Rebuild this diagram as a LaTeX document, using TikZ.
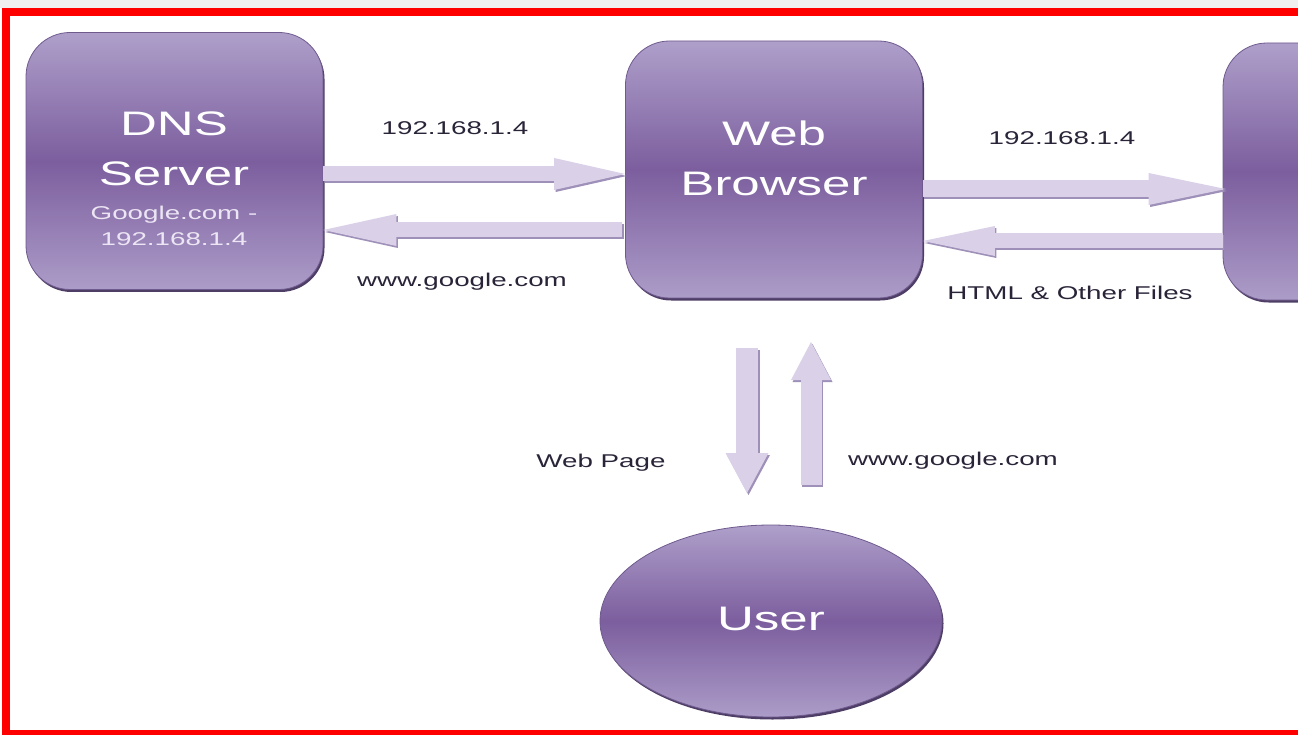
\documentclass[tikz,border=0pt]{standalone}
\usepackage{fontspec}
\setmainfont{Liberation Sans}
\newfontfamily\widefont[FakeStretch=1.5]{Liberation Sans}
\usetikzlibrary{arrows.meta,shadows,shapes.geometric}
\definecolor{boxtop}{HTML}{AE9FCA}
\definecolor{boxmid}{HTML}{7C5E9E}
\definecolor{boxbot}{HTML}{AC9CC8}
\definecolor{boxedge}{HTML}{6F5A8E}
\definecolor{boxsh}{HTML}{4E3E66}
\definecolor{arrowc}{HTML}{DAD1E9}
\definecolor{arrowsh}{HTML}{9E90B8}
\definecolor{labelc}{HTML}{2A2438}
\definecolor{subc}{HTML}{ECE6F4}
\begin{document}
\begin{tikzpicture}[x=1pt,y=-1pt,
  box/.style={rounded corners=44pt, minimum width=297pt, minimum height=257pt,
    top color=boxtop, bottom color=boxbot, middle color=boxmid,
    draw=boxedge, line width=0.8pt, inner sep=0pt,
    general shadow={fill=boxsh, shadow xshift=1.5pt, shadow yshift=-2.5pt}},
  userell/.style={ellipse, minimum width=342pt, minimum height=192pt,
    top color=boxtop, bottom color=boxbot, middle color=boxmid,
    draw=boxedge, line width=0.8pt, inner sep=0pt,
    general shadow={fill=boxsh, shadow xshift=1.5pt, shadow yshift=-2.5pt}},
  bigtxt/.style={text=white, font=\widefont\fontsize{34}{36}\selectfont, inner sep=0pt, text height=24.5pt, text depth=0pt},
  subtxt/.style={text=subc, font=\widefont\fontsize{18.5}{20}\selectfont, inner sep=0pt, text height=13.3pt, text depth=0pt},
  lbl/.style={text=labelc, font=\widefont\fontsize{18.5}{20}\selectfont, inner sep=0pt, text height=13.3pt, text depth=0pt},
  fatsh/.style n args={3}{draw=arrowsh, line width=#1, -{Triangle[width=#2, length=#3, line width=0pt]}, transform canvas={shift={(1.5pt,-2pt)}}},
  fat/.style n args={3}{draw=arrowc, line width=#1, -{Triangle[width=#2, length=#3, line width=0pt]}},
]
\useasboundingbox (0,0) rectangle (1298,735);
\fill[white] (0,0) rectangle (1298,735);
\fill[black!6] (0,0) rectangle (1298,8);
\draw[red, line width=8pt] (6,12) rectangle (1340,734);

% boxes
\node[box] (dns) at (174.5,161) {};
\node[box] (browser) at (774,169.5) {};
\node[box] (server) at (1371.5,171.5) {};
\node[userell] (user) at (771,621) {};

% texts in boxes
\node[bigtxt] (dnsA) at (174,123) {DNS};
\node[bigtxt] (dnsB) at (174,173) {Server};
\node[subtxt] (dnsC) at (174,213) {Google.com -};
\node[subtxt] (dnsD) at (174,239) {192.168.1.4};
\node[bigtxt] (webA) at (774,133) {Web};
\node[bigtxt] (webB) at (774,183) {Browser};
\node[bigtxt] (srvA) at (1371,143) {Server};
\node[bigtxt] (userT) at (771,618) {User};

% levels
\coordinate (y1) at (0,174);
\coordinate (y2) at (0,230);
\coordinate (y3) at (0,189);
\coordinate (y4) at (0,241);
\coordinate (d1) at (747,348);
\coordinate (d2) at (747,493);
\coordinate (u1) at (811,485);
\coordinate (u2) at (811,342);

% shadows of arrows
\draw[fatsh={15pt}{32pt}{71pt}] (dns.east |- y1) -- (browser.west |- y1);
\draw[fatsh={15pt}{32pt}{73pt}] ([xshift=-3pt]browser.west |- y2) -- (dns.east |- y2);
\draw[fatsh={17pt}{32pt}{77pt}] (browser.east |- y3) -- ([xshift=3pt]server.west |- y3);
\draw[fatsh={15pt}{30pt}{72pt}] (server.west |- y4) -- (browser.east |- y4);
\draw[fatsh={22pt}{43pt}{40pt}] (d1) -- (d2);
\draw[fatsh={21pt}{40pt}{38pt}] (u1) -- (u2);
% arrows
\draw[fat={15pt}{32pt}{71pt}] (dns.east |- y1) -- (browser.west |- y1);
\draw[fat={15pt}{32pt}{73pt}] ([xshift=-3pt]browser.west |- y2) -- (dns.east |- y2);
\draw[fat={17pt}{32pt}{77pt}] (browser.east |- y3) -- ([xshift=3pt]server.west |- y3);
\draw[fat={15pt}{30pt}{72pt}] (server.west |- y4) -- (browser.east |- y4);
\draw[fat={22pt}{43pt}{40pt}] (d1) -- (d2);
\draw[fat={21pt}{40pt}{38pt}] (u1) -- (u2);

% labels
\node[lbl] (l1) at (455,128) {192.168.1.4};
\node[lbl] (l2) at (462,280) {www.google.com};
\node[lbl] (l3) at (1062,138) {192.168.1.4};
\node[lbl] (l4) at (1070,293) {HTML \& Other Files};
\node[lbl] (l5) at (601,461) {Web Page};
\node[lbl] (l6) at (953,459) {www.google.com};
\end{tikzpicture}
\end{document}
